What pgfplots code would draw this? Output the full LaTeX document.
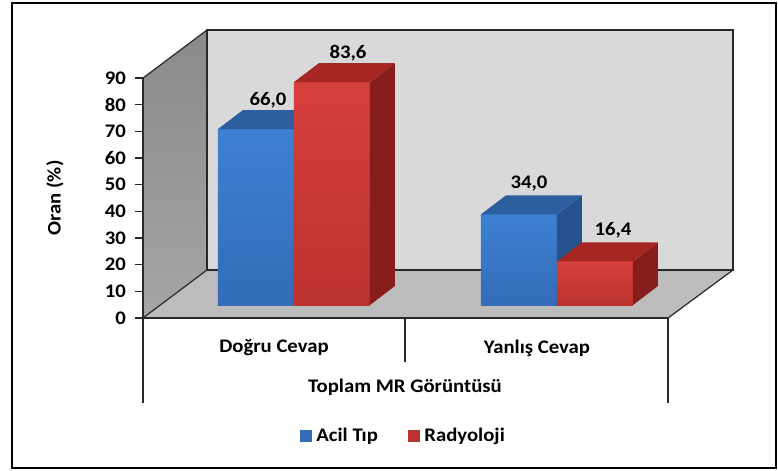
\documentclass[border=0pt]{standalone}
\usepackage{pgfplots}
\pgfplotsset{compat=1.18}
\usepackage{fontspec}
\setmainfont{Carlito}[FakeStretch=1.08]

\definecolor{bfT}{RGB}{62,128,210}
\definecolor{bfB}{RGB}{52,108,184}
\definecolor{bTop}{RGB}{44,94,160}
\definecolor{bSide}{RGB}{38,82,142}
\definecolor{rfT}{RGB}{214,64,60}
\definecolor{rfB}{RGB}{188,50,48}
\definecolor{rTop}{RGB}{166,38,36}
\definecolor{rSide}{RGB}{136,30,28}
\definecolor{backwall}{RGB}{217,217,217}
\definecolor{floorc}{RGB}{188,188,188}
\definecolor{lwT}{RGB}{138,138,138}
\definecolor{lwB}{RGB}{165,165,165}
\definecolor{edge}{RGB}{40,40,40}

% cuboid bar: #1 left, #2 right (front face, px), #3 value, #4 front top col, #5 front bottom col, #6 side col, #7 top col
\newcommand{\cuboid}[7]{%
  \pgfmathsetmacro\cbT{4.875+#3}%
  \pgfmathsetmacro\cbTT{4.875+#3+7.125}%
  \pgfmathsetmacro\cbRR{#2+25}%
  \pgfmathsetmacro\cbLL{#1+25}%
  \edef\cbdo{%
  \noexpand\addplot[draw=none, top color=#4, bottom color=#5] coordinates {(#1,4.875) (#2,4.875) (#2,\cbT) (#1,\cbT) (#1,4.875)};
  \noexpand\addplot[draw=none, fill=#6] coordinates {(#2,4.875) (\cbRR,12) (\cbRR,\cbTT) (#2,\cbT) (#2,4.875)};
  \noexpand\addplot[draw=none, fill=#7] coordinates {(#1,\cbT) (#2,\cbT) (\cbRR,\cbTT) (\cbLL,\cbTT) (#1,\cbT)};
  }\cbdo
}

\begin{document}
\begin{tikzpicture}[font=\bfseries\fontsize{9.6}{11.5}\selectfont]
\begin{axis}[
  scale only axis, width=262.5pt, height=120pt,
  xmin=143, xmax=668, ymin=0, ymax=90,
  clip=false, axis on top=true,
  axis y line*=left, axis x line*=bottom,
  axis line style={-, draw=edge, line width=0.8pt},
  xtick=\empty,
  ytick={0,10,...,90},
  tick align=outside, major tick length=4pt,
  every tick/.style={draw=edge, line width=0.6pt},
  /pgf/number format/assume math mode=true,
  yticklabel style={font=\bfseries\fontsize{9.6}{11.5}\selectfont, xshift=-1pt},
]
% invisible full-image bounding box
\path (axis cs:0,119.25) rectangle (axis cs:778,-57.375);
% outer border
\draw[black, line width=0.8pt] (axis cs:12,118.125) rectangle (axis cs:776,-56.25);
% back wall
\fill[backwall] (axis cs:207,18) rectangle (axis cs:733,108);
% left wall
\shade[top color=lwT, bottom color=lwB] (axis cs:143,0) -- (axis cs:207,18) -- (axis cs:207,108) -- (axis cs:143,90) -- cycle;
% floor
\fill[floorc] (axis cs:143,0) -- (axis cs:668,0) -- (axis cs:733,18) -- (axis cs:207,18) -- cycle;
% edges
\draw[edge, line width=0.6pt] (axis cs:207,18) -- (axis cs:733,18) -- (axis cs:733,108) -- (axis cs:207,108) -- cycle;
\draw[edge, line width=0.6pt] (axis cs:143,90) -- (axis cs:207,108);
\draw[edge, line width=0.6pt] (axis cs:143,0) -- (axis cs:207,18);
\draw[edge, line width=0.6pt] (axis cs:668,0) -- (axis cs:733,18);

% bars: Acil Tip (blue), Radyoloji (red)
\cuboid{218}{294}{66.0}{bfT}{bfB}{bSide}{bTop}
\cuboid{294}{370}{83.6}{rfT}{rfB}{rSide}{rTop}
\cuboid{481}{557}{34.0}{bfT}{bfB}{bSide}{bTop}
\cuboid{557}{633}{16.4}{rfT}{rfB}{rSide}{rTop}

% value labels
\node at (axis cs:268,81.75) {66,0};
\node at (axis cs:348,99.4) {83,6};
\node at (axis cs:529,50.6) {34,0};
\node at (axis cs:613,33) {16,4};

% category separators
\draw[edge, line width=0.6pt] (axis cs:143,0) -- (axis cs:143,-31.9);
\draw[edge, line width=0.6pt] (axis cs:405,0) -- (axis cs:405,-16.5);
\draw[edge, line width=0.6pt] (axis cs:668,0) -- (axis cs:668,-31.9);
\node at (axis cs:274,-11.25) {Doğru Cevap};
\node at (axis cs:537,-11.25) {Yanlış Cevap};
\node at (axis cs:405,-25.9) {Toplam MR Görüntüsü};

% y label
\node[rotate=90] at (axis cs:55,45) {Oran (\%)};

% legend
\node[fill=bfB, minimum size=6pt, inner sep=0pt] at (axis cs:306,-44.25) {};
\node[anchor=west, inner sep=0pt] at (axis cs:316,-44.25) {Acil Tıp};
\node[fill=rfB, minimum size=6pt, inner sep=0pt] at (axis cs:414,-44.25) {};
\node[anchor=west, inner sep=0pt] at (axis cs:424,-44.25) {Radyoloji};
\end{axis}
\end{tikzpicture}
\end{document}
